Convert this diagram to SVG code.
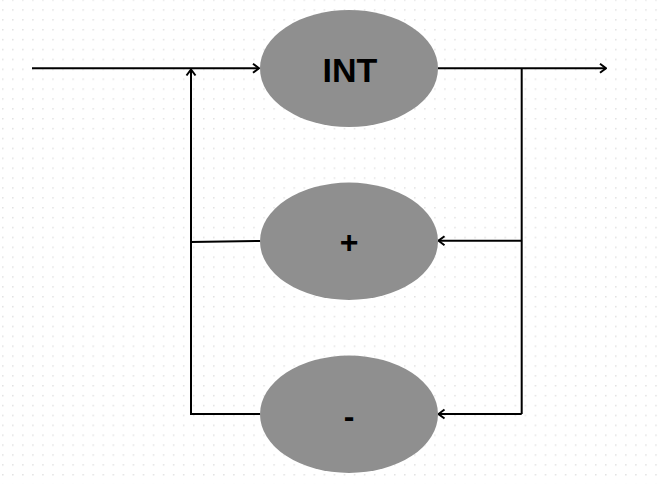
<svg xmlns="http://www.w3.org/2000/svg" width="663" height="484" viewBox="0 0 663 484">
<defs>
<pattern id="grid" x="2" y="-0.7" width="10.05" height="9.89" patternUnits="userSpaceOnUse">
<rect x="0" y="0" width="1.5" height="1.5" fill="#e2e2e2"/>
</pattern>
<marker id="arr" viewBox="0 0 10 12" refX="9" refY="6" markerWidth="10" markerHeight="12" markerUnits="userSpaceOnUse" orient="auto">
<polyline points="3,1.5 9,6 3,10.5" fill="none" stroke="#000" stroke-width="2"/>
</marker>
<style>
.node{fill:#8f8f8f}
.lbl{font-family:"Liberation Sans",Arial,sans-serif;font-weight:bold;fill:#000;text-anchor:middle}
.ln{fill:none;stroke:#000;stroke-width:2}
</style>
</defs>
<rect width="663" height="484" fill="#fff"/>
<rect width="663" height="484" fill="url(#grid)"/>
<g id="connectors">
<line class="ln" x1="32" y1="68.3" x2="259" y2="68.3" marker-end="url(#arr)"/>
<polyline class="ln" points="260,241 191,242 191,414 260,414"/>
<line class="ln" x1="191" y1="414" x2="191" y2="69.5" marker-end="url(#arr)"/>
<line class="ln" x1="438" y1="68.3" x2="606" y2="68.3" marker-end="url(#arr)"/>
<polyline class="ln" points="521.7,68.3 521.7,414"/>
<line class="ln" x1="521.7" y1="240.7" x2="438.5" y2="240.7" marker-end="url(#arr)"/>
<line class="ln" x1="521.7" y1="414" x2="438.5" y2="414" marker-end="url(#arr)"/>
</g>
<g id="int">
<ellipse class="node" cx="349" cy="68.5" rx="89" ry="58.5"/>
<text class="lbl" x="350" y="81.7" font-size="34">INT</text>
</g>
<g id="plus">
<ellipse class="node" cx="349" cy="241.3" rx="89" ry="58.7"/>
<text class="lbl" x="349" y="253" font-size="32">+</text>
</g>
<g id="minus">
<ellipse class="node" cx="349" cy="414.3" rx="89" ry="58.7"/>
<text class="lbl" x="349" y="427" font-size="32">-</text>
</g>
</svg>
